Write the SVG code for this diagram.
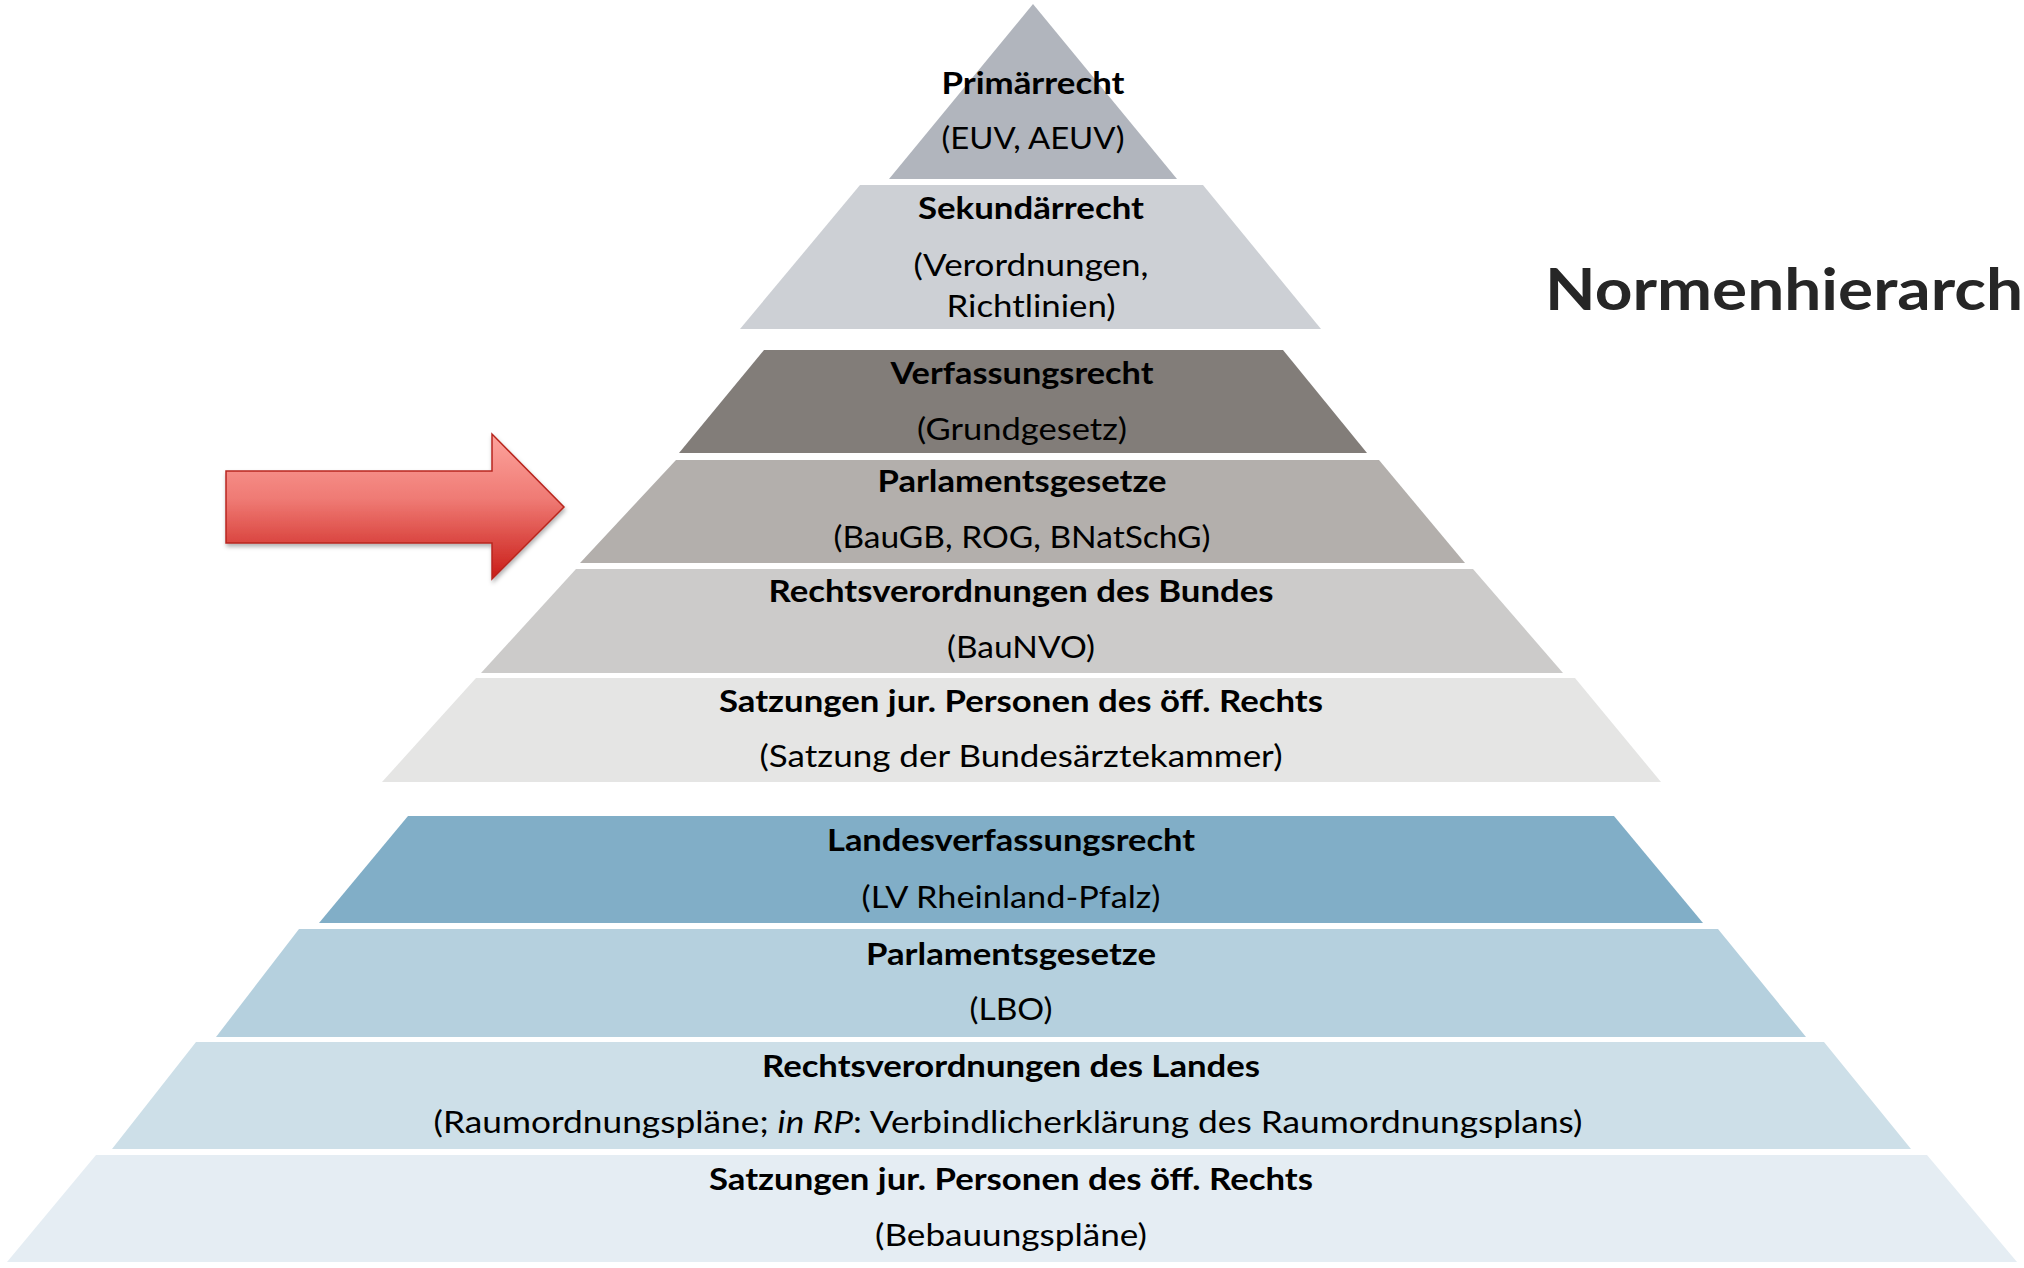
<svg xmlns="http://www.w3.org/2000/svg" width="2024" height="1268" viewBox="0 0 2024 1268">
<defs>
<style>
.t{font-family:Lato,"Open Sans","Liberation Sans",sans-serif;font-size:31px;fill:#000;text-anchor:middle}
.b{font-weight:700}
.title{font-family:Lato,"Open Sans","Liberation Sans",sans-serif;font-size:58px;font-weight:700;fill:#262626}
</style>
<linearGradient id="arrowGrad" gradientUnits="userSpaceOnUse" x1="0" y1="434" x2="0" y2="579">
<stop offset="0" stop-color="#fda49d"/>
<stop offset="0.45" stop-color="#ef7a74"/>
<stop offset="1" stop-color="#c91c16"/>
</linearGradient>
<filter id="shadow" x="-10%" y="-20%" width="120%" height="150%">
<feDropShadow dx="1" dy="3" stdDeviation="2" flood-color="#000" flood-opacity="0.3"/>
</filter>
</defs>
<rect width="2024" height="1268" fill="#fff"/>

<g id="primaerrecht">
<polygon points="1033,4 1177,179 889,179" fill="#b1b5bd"/>
<text class="t b" x="1033" y="94" textLength="183" lengthAdjust="spacingAndGlyphs">Primärrecht</text>
<text class="t" x="1033" y="149" textLength="183" lengthAdjust="spacingAndGlyphs">(EUV, AEUV)</text>
</g>

<g id="sekundaerrecht">
<polygon points="860,185 1203,185 1321,329 740,329" fill="#cdd0d5"/>
<text class="t b" x="1031" y="219" textLength="226" lengthAdjust="spacingAndGlyphs">Sekundärrecht</text>
<text class="t" x="1031" y="276" textLength="235" lengthAdjust="spacingAndGlyphs">(Verordnungen,</text>
<text class="t" x="1031" y="317" textLength="169" lengthAdjust="spacingAndGlyphs">Richtlinien)</text>
</g>

<g id="verfassungsrecht">
<polygon points="764,350 1283,350 1367,453 679,453" fill="#827d79"/>
<text class="t b" x="1022" y="384" textLength="263" lengthAdjust="spacingAndGlyphs">Verfassungsrecht</text>
<text class="t" x="1022" y="440" textLength="210" lengthAdjust="spacingAndGlyphs">(Grundgesetz)</text>
</g>

<g id="parlamentsgesetze-bund">
<polygon points="676,460 1379,460 1465,563 580,563" fill="#b3afac"/>
<text class="t b" x="1022" y="492" textLength="289" lengthAdjust="spacingAndGlyphs">Parlamentsgesetze</text>
<text class="t" x="1022" y="548" textLength="377" lengthAdjust="spacingAndGlyphs">(BauGB, ROG, BNatSchG)</text>
</g>

<g id="rechtsverordnungen-bund">
<polygon points="576,569 1473,569 1563,673 481,673" fill="#cccbca"/>
<text class="t b" x="1021" y="602" textLength="505" lengthAdjust="spacingAndGlyphs">Rechtsverordnungen des Bundes</text>
<text class="t" x="1021" y="658" textLength="148" lengthAdjust="spacingAndGlyphs">(BauNVO)</text>
</g>

<g id="satzungen-bund">
<polygon points="476,678 1575,678 1661,782 382,782" fill="#e5e5e4"/>
<text class="t b" x="1021" y="712" textLength="604" lengthAdjust="spacingAndGlyphs">Satzungen jur. Personen des öff. Rechts</text>
<text class="t" x="1021" y="767" textLength="523" lengthAdjust="spacingAndGlyphs">(Satzung der Bundesärztekammer)</text>
</g>

<g id="landesverfassungsrecht">
<polygon points="408,816 1614,816 1703,923 319,923" fill="#81aec7"/>
<text class="t b" x="1011" y="851" textLength="368" lengthAdjust="spacingAndGlyphs">Landesverfassungsrecht</text>
<text class="t" x="1011" y="908" textLength="299" lengthAdjust="spacingAndGlyphs">(LV Rheinland-Pfalz)</text>
</g>

<g id="parlamentsgesetze-land">
<polygon points="299,929 1718,929 1806,1037 216,1037" fill="#b5d0de"/>
<text class="t b" x="1011" y="965" textLength="290" lengthAdjust="spacingAndGlyphs">Parlamentsgesetze</text>
<text class="t" x="1011" y="1020" textLength="83" lengthAdjust="spacingAndGlyphs">(LBO)</text>
</g>

<g id="rechtsverordnungen-land">
<polygon points="196,1042 1824,1042 1911,1149 112,1149" fill="#cddfe8"/>
<text class="t b" x="1011" y="1077" textLength="498" lengthAdjust="spacingAndGlyphs">Rechtsverordnungen des Landes</text>
<text class="t" x="1008" y="1133" textLength="1149" lengthAdjust="spacingAndGlyphs">(Raumordnungspläne; <tspan font-style="italic">in RP</tspan>: Verbindlicherklärung des Raumordnungsplans)</text>
</g>

<g id="satzungen-land">
<polygon points="96,1155 1927,1155 2017,1262 7,1262" fill="#e5edf3"/>
<text class="t b" x="1011" y="1190" textLength="604" lengthAdjust="spacingAndGlyphs">Satzungen jur. Personen des öff. Rechts</text>
<text class="t" x="1011" y="1246" textLength="272" lengthAdjust="spacingAndGlyphs">(Bebauungspläne)</text>
</g>

<g id="arrow">
<polygon points="226,471 492,471 492,434 564,507 492,579 492,543 226,543" fill="url(#arrowGrad)" stroke="#b8261f" stroke-width="1.5" stroke-linejoin="miter" filter="url(#shadow)"/>
</g>

<g id="title">
<text class="title" x="1545" y="310" textLength="478" lengthAdjust="spacingAndGlyphs">Normenhierarch</text>
</g>
</svg>
